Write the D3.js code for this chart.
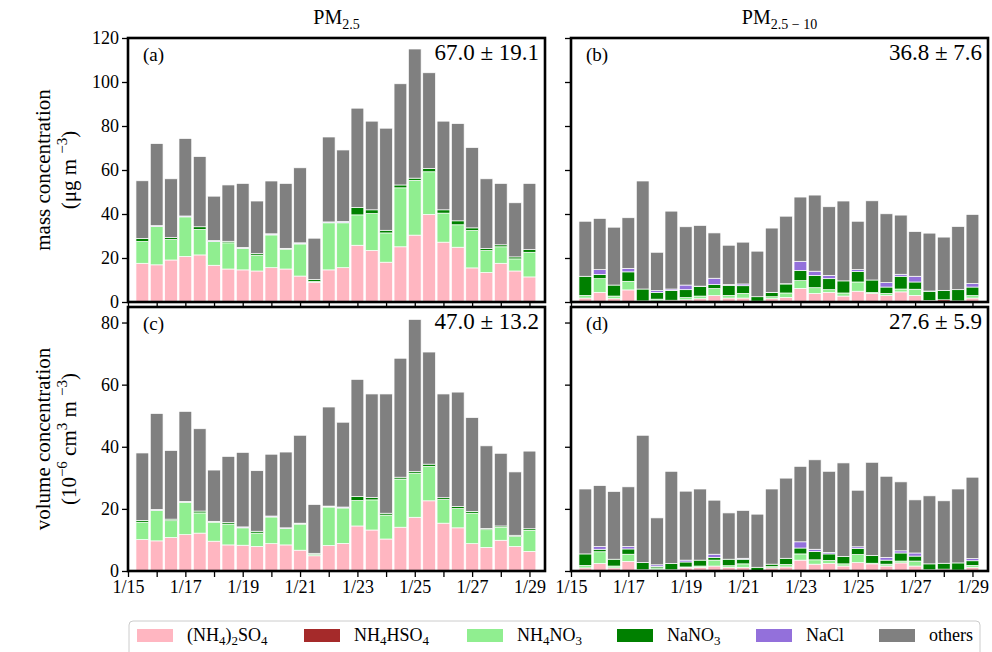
<!DOCTYPE html>
<html>
<head>
<meta charset="utf-8">
<script src="https://cdn.jsdelivr.net/npm/d3@7"></script>
<style>
  body { margin: 0; background: #fff; }
  svg { display: block; font-family: "Liberation Serif", "Times New Roman", serif; }
</style>
</head>
<body>
<svg id="chart" width="992" height="652"></svg>
<script>
// ---- sampling times: half-day bins, 1/15 12:00 through 1/29 00:00 ----
const firstSample = new Date(2019, 0, 15, 12);
const endSample = new Date(2019, 0, 29, 12);
const sampleTimes = d3.timeHour.every(12).range(firstSample, endSample);

const speciesKeys = ["as", "ahs", "an", "sn", "nacl", "oth"];
const speciesNames = ["(NH4)2SO4", "NH4HSO4", "NH4NO3", "NaNO3", "NaCl", "others"];
const speciesColors = ["#ffb6c1", "#a52a2a", "#90ee90", "#008000", "#9370db", "#808080"];

const massTicks = [0, 20, 40, 60, 80, 100, 120];
const volTicks = [0, 20, 40, 60, 80];

// ---- (a) PM2.5 mass, µg m-3 ----
const fineMassAS   = [17.6,16.9,19.1,20.7,21.4,16.7,15.0,14.6,14.1,15.6,15.0,11.8,9.0,14.6,15.6,25.8,23.4,18.1,25.1,30.4,39.8,27.2,24.9,15.5,13.4,17.6,14.1,11.4];
const fineMassAHS  = [0,0,0,0,0,0,0,0,0,0,0,0,0,0,0,0,0,0,0,0,0,0,0,0,0,0,0,0];
const fineMassAN   = [9.9,17.4,9.3,18.0,11.6,10.8,11.9,9.8,7.2,14.9,9.0,14.6,0.3,21.4,20.4,13.8,16.8,13.3,26.8,24.9,19.4,13.2,10.2,17.0,10.0,7.5,5.5,11.2];
const fineMassSN   = [1.4,0.1,0.9,0.1,1.2,0.1,0.7,0.1,0.7,0.1,0.2,0.1,0.9,0.1,0.1,3.4,1.7,1.2,1.3,1.0,1.5,1.5,1.8,1.2,0.9,0.9,0.9,1.2];
const fineMassNaCl = [0,0.3,0,0.3,0,0.3,0,0.3,0,0.4,0.2,0.4,0,0.3,0.5,0,0,0,0,0,0,0,0,0,0,0,0,0];
const fineMassOth  = [26.2,37.3,26.7,35.2,31.9,20.2,25.6,29.1,23.9,24.0,29.5,34.1,18.8,38.6,32.5,45.1,40.3,46.4,46.0,58.7,43.5,40.3,44.2,36.5,31.7,27.9,24.6,30.1];

// ---- (b) PM2.5-10 mass, µg m-3 ----
const coarseMassAS   = [1.8,4.4,1.5,5.5,0.3,0.5,0.2,1.0,1.5,2.9,1.8,1.8,0.2,1.5,2.1,6.2,3.9,4.4,2.7,4.9,3.8,2.9,4.6,3.0,0.2,0.2,0.3,1.8];
const coarseMassAHS  = [0,0,0,0,0,0,0.6,0,0,0,0,0,0,0,0,0,0,0,0,0,0,0,0,0,0.5,0.8,0.2,0];
const coarseMassAN   = [1.2,6.2,1.2,3.9,0.2,0.8,0,1.0,1.2,3.2,1.2,2.1,0.2,0.9,2.0,3.5,2.6,1.2,1.4,4.2,0.5,1.0,1.3,2.8,0,0,0,1.1];
const coarseMassSN   = [8.7,1.9,5.0,4.3,5.4,3.1,4.5,3.6,4.4,1.8,4.6,3.5,2.0,1.9,4.1,4.6,5.6,5.0,5.5,4.7,5.7,2.9,5.8,3.3,4.2,4.3,5.1,3.9];
const coarseMassNaCl = [0,2.2,0,1.6,0,0.8,0.6,2.1,0.1,2.9,0.3,0.8,0,0.1,0.1,4.2,1.9,1.5,0,0.9,0,2.0,0.9,2.6,0.1,0,0,1.6];
const coarseMassOth  = [25.0,23.3,26.3,23.0,49.1,17.4,35.4,26.5,27.6,20.6,17.9,19.0,20.7,29.2,30.7,29.2,34.6,31.2,36.3,22.0,36.0,31.3,26.9,20.3,26.3,24.2,28.7,31.4];

// ---- (c) PM2.5 volume, 10-6 cm3 m-3 ----
const fineVolAS   = [10.1,9.7,10.8,11.7,12.2,9.6,8.4,8.3,7.9,8.8,8.4,6.7,4.9,8.2,8.9,14.5,13.2,10.3,14.1,17.3,22.6,15.4,13.9,8.8,7.6,9.9,7.9,6.3];
const fineVolAHS  = [0,0,0,0,0,0,0,0,0,0,0,0,0,0,0,0,0,0,0,0,0,0,0,0,0,0,0,0];
const fineVolAN   = [5.6,9.8,5.4,10.4,6.5,6.1,6.7,5.6,4.3,8.6,5.3,8.4,0.4,12.4,11.4,8.2,9.7,7.7,15.5,14.2,11.1,7.6,6.2,9.8,5.7,4.2,3.2,6.8];
const fineVolSN   = [0.6,0.1,0.5,0.1,0.6,0.1,0.5,0.1,0.6,0.1,0.1,0.1,0.4,0.1,0.1,1.3,0.8,0.6,0.6,0.5,0.7,0.6,0.7,0.6,0.4,0.4,0.4,0.5];
const fineVolNaCl = [0,0.2,0,0.2,0,0.2,0,0.2,0,0.2,0.1,0.2,0,0.2,0.2,0,0,0,0,0,0,0,0,0,0,0,0,0];
const fineVolOth  = [21.7,30.9,22.1,29.0,26.5,16.5,21.3,24.0,19.5,19.9,24.4,28.3,15.7,31.9,27.3,37.7,33.3,38.4,38.3,49.0,36.1,33.4,36.8,30.2,26.6,23.4,20.4,25.0];

// ---- (d) PM2.5-10 volume, 10-6 cm3 m-3 ----
const coarseVolAS   = [1.0,2.4,1.0,3.1,0.1,0.4,0.1,1.0,1.2,1.6,1.2,1.2,0.1,1.0,1.3,3.5,2.2,2.4,1.6,2.7,2.3,1.6,2.6,1.6,0.1,0.1,0.2,1.2];
const coarseVolAHS  = [0,0,0,0,0.3,0,0.3,0,0,0,0,0,0,0,0,0,0,0,0,0,0,0,0,0,0.3,0.5,0.1,0];
const coarseVolAN   = [0.8,3.8,0.6,2.3,0,0.6,0,0.3,0.4,1.9,0.5,1.1,0.1,0.4,0.8,2.0,1.4,1.0,0.7,2.6,0.2,0.6,0.6,1.6,0,0,0,0.6];
const coarseVolSN   = [3.7,0.8,2.2,1.7,2.3,0.5,2.0,1.6,1.9,0.9,2.1,1.5,1.0,0.8,2.0,1.9,2.7,2.1,2.4,2.0,2.5,1.3,2.6,1.6,1.9,1.9,2.3,1.5];
const coarseVolNaCl = [0,0.9,0,0.8,0,0.5,0,0.6,0,1.0,0,0.3,0,0,0,2.0,0.7,0.5,0,0.5,0,0.9,0.7,1.0,0,0,0,0.7];
const coarseVolOth  = [20.9,19.6,21.8,19.2,41.0,15.1,29.7,22.2,22.9,17.4,14.9,15.4,17.1,24.2,25.8,24.3,28.8,26.1,30.1,18.2,30.0,26.1,22.2,17.1,21.9,20.1,23.8,26.2];

const panelLetters = ["(a)", "(b)", "(c)", "(d)"];
const panelStats = ["67.0 ± 19.1", "36.8 ± 7.6", "47.0 ± 13.2", "27.6 ± 5.9"];

// ---- layout ----
const svg = d3.select("#chart");
const colLeft = [128, 571];
const rowTop = [38, 307];
const panelW = 417, panelH = 264;

const x = d3.scaleTime()
  .domain([new Date(2019, 0, 15, 0), new Date(2019, 0, 29, 13)]);
const yMass = d3.scaleLinear().domain([0, 120]);
const yVol = d3.scaleLinear().domain([0, 85]);

const panels = [
  { row: 0, col: 0, y: yMass, ticks: massTicks, series: [fineMassAS, fineMassAHS, fineMassAN, fineMassSN, fineMassNaCl, fineMassOth] },
  { row: 0, col: 1, y: yMass, ticks: massTicks, series: [coarseMassAS, coarseMassAHS, coarseMassAN, coarseMassSN, coarseMassNaCl, coarseMassOth] },
  { row: 1, col: 0, y: yVol, ticks: volTicks, series: [fineVolAS, fineVolAHS, fineVolAN, fineVolSN, fineVolNaCl, fineVolOth] },
  { row: 1, col: 1, y: yVol, ticks: volTicks, series: [coarseVolAS, coarseVolAHS, coarseVolAN, coarseVolSN, coarseVolNaCl, coarseVolOth] }
];

const stack = d3.stack().keys(speciesKeys);

panels.forEach((p, i) => {
  const xs = x.copy().range([0, panelW]);
  const ys = p.y.copy().range([panelH, 0]);
  const g = svg.append("g")
    .attr("transform", `translate(${colLeft[p.col]},${rowTop[p.row]})`);

  const rows = sampleTimes.map((t, k) => {
    const r = { t };
    speciesKeys.forEach((key, s) => { r[key] = p.series[s][k]; });
    return r;
  });
  const layers = stack(rows);
  const bw = xs(d3.timeMinute.offset(firstSample, 640)) - xs(firstSample);

  g.selectAll("g.layer")
    .data(layers)
    .join("g")
    .attr("class", "layer")
    .attr("fill", (d, s) => speciesColors[s])
    .selectAll("rect")
    .data(d => d.filter(v => v[1] - v[0] > 0))
    .join("rect")
    .attr("x", d => xs(d.data.t) - bw / 2)
    .attr("width", bw)
    .attr("y", d => ys(d[1]))
    .attr("height", d => ys(d[0]) - ys(d[1]))
    .attr("stroke", "#fff")
    .attr("stroke-width", 0.7);

  // y axis
  const yAxis = d3.axisLeft(ys).tickValues(p.ticks).tickSize(6).tickPadding(3)
    .tickFormat(p.col === 0 ? d3.format("d") : () => "");
  const ya = g.append("g").call(yAxis);
  ya.select(".domain").remove();
  ya.selectAll(".tick line").attr("stroke-width", 1.3);
  ya.selectAll("text").attr("font-size", 18).attr("font-family", "Liberation Serif").attr("fill", "#000");

  // x axis: a tick each day, labelled every second day on the lower row
  const xAxis = d3.axisBottom(xs).ticks(d3.timeDay.every(1)).tickSize(6).tickPadding(3)
    .tickFormat(d => (p.row === 1 && d.getDate() % 2 === 1) ? `${d.getMonth() + 1}/${d.getDate()}` : "");
  const xa = g.append("g").attr("transform", `translate(0,${panelH})`).call(xAxis);
  xa.select(".domain").remove();
  xa.selectAll(".tick line").attr("stroke-width", 1.3);
  xa.selectAll("text").attr("font-size", 18).attr("font-family", "Liberation Serif").attr("fill", "#000");

  // frame
  g.append("rect")
    .attr("width", panelW).attr("height", panelH)
    .attr("fill", "none").attr("stroke", "#000").attr("stroke-width", 2.6);

  g.append("text").attr("x", 15).attr("y", 23)
    .attr("font-size", 19).text(panelLetters[i]);
  g.append("text").attr("x", panelW - 6).attr("y", 22)
    .attr("text-anchor", "end").attr("font-size", 23).text(panelStats[i]);
});

// column titles
function subTitle(cx, main, sub) {
  const t = svg.append("text").attr("x", cx).attr("y", 24)
    .attr("text-anchor", "middle").attr("font-size", 20);
  t.append("tspan").text(main);
  t.append("tspan").attr("dy", 5).attr("font-size", 14).text(sub);
}
subTitle(colLeft[0] + panelW / 2, "PM", "2.5");
subTitle(colLeft[1] + panelW / 2, "PM", "2.5 − 10");

// y-axis titles, two lines each; parts flagged true are superscripts
function yTitle(cy, line1, parts) {
  svg.append("text")
    .attr("transform", `translate(50,${cy}) rotate(-90)`)
    .attr("text-anchor", "middle").attr("font-size", 21).text(line1);
  const t = svg.append("text")
    .attr("transform", `translate(76,${cy}) rotate(-90)`)
    .attr("text-anchor", "middle").attr("font-size", 21);
  let raised = false;
  parts.forEach(([txt, sup]) => {
    const span = t.append("tspan").text(txt);
    if (sup) {
      span.attr("font-size", 15);
      if (!raised) { span.attr("dy", -9); raised = true; }
    } else if (raised) {
      span.attr("dy", 9); raised = false;
    }
  });
}
yTitle(rowTop[0] + panelH / 2, "mass concentration",
  [["(μg m ", false], ["−3", true], [")", false]]);
yTitle(rowTop[1] + panelH / 2, "volume concentration",
  [["(10", false], ["−6", true], [" cm", false], ["3", true], [" m ", false], ["−3", true], [")", false]]);

// legend
const legend = svg.append("g");
legend.append("rect")
  .attr("x", 129).attr("y", 621).attr("width", 851).attr("height", 40)
  .attr("rx", 4).attr("fill", "#fff").attr("stroke", "#ccc").attr("stroke-width", 1);
const legendX = [137, 304, 467, 617, 756, 879];
const legendLabels = [
  [["(NH", 0], ["4", 1], [")", 0], ["2", 1], ["SO", 0], ["4", 1]],
  [["NH", 0], ["4", 1], ["HSO", 0], ["4", 1]],
  [["NH", 0], ["4", 1], ["NO", 0], ["3", 1]],
  [["NaNO", 0], ["3", 1]],
  [["NaCl", 0]],
  [["others", 0]]
];
speciesNames.forEach((name, s) => {
  const lg = legend.append("g").attr("transform", `translate(${legendX[s]},0)`);
  lg.append("rect").attr("x", 0).attr("y", 629).attr("width", 36).attr("height", 13)
    .attr("fill", speciesColors[s]);
  const t = lg.append("text").attr("x", 50).attr("y", 641).attr("font-size", 18);
  let lowered = false;
  legendLabels[s].forEach(([txt, sub]) => {
    const span = t.append("tspan").text(txt);
    if (sub && !lowered) { span.attr("dy", 4).attr("font-size", 13); lowered = true; }
    else if (sub) { span.attr("font-size", 13); }
    else if (lowered) { span.attr("dy", -4); lowered = false; }
  });
});
</script>
</body>
</html>
